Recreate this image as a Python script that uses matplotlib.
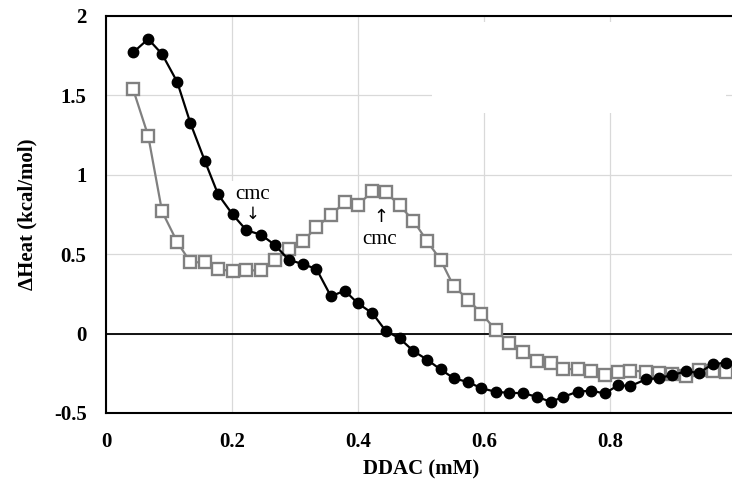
import matplotlib
matplotlib.use('Agg')
import matplotlib.pyplot as plt
from matplotlib.patches import Rectangle

# DDAC concentration (mM), shared by both runs
ddac = [0.043, 0.067, 0.089, 0.113, 0.134, 0.157, 0.178, 0.201, 0.223, 0.246,
        0.268, 0.290, 0.312, 0.334, 0.357, 0.379, 0.400, 0.423, 0.444, 0.466,
        0.488, 0.510, 0.531, 0.552, 0.575, 0.596, 0.619, 0.640, 0.662, 0.684,
        0.706, 0.726, 0.749, 0.770, 0.792, 0.813, 0.832, 0.857, 0.877, 0.899,
        0.920, 0.941, 0.963, 0.984]

# filled circles
heat_black = [1.77, 1.855, 1.76, 1.585, 1.325, 1.086, 0.876, 0.75, 0.65, 0.623,
              0.558, 0.465, 0.438, 0.407, 0.235, 0.27, 0.19, 0.128, 0.017, -0.03,
              -0.11, -0.165, -0.226, -0.281, -0.306, -0.344, -0.367, -0.373, -0.375, -0.398,
              -0.43, -0.398, -0.365, -0.36, -0.377, -0.324, -0.331, -0.288, -0.28, -0.261,
              -0.238, -0.247, -0.193, -0.183]

# open squares
heat_gray = [1.539, 1.245, 0.769, 0.577, 0.449, 0.449, 0.407, 0.392, 0.398, 0.398,
             0.465, 0.53, 0.58, 0.669, 0.748, 0.826, 0.811, 0.895, 0.891, 0.807,
             0.711, 0.58, 0.465, 0.297, 0.214, 0.126, 0.021, -0.059, -0.117, -0.17,
             -0.185, -0.222, -0.226, -0.238, -0.258, -0.241, -0.233, -0.239, -0.247, -0.254,
             -0.268, -0.231, -0.233, -0.243]

xticks = [0, 0.2, 0.4, 0.6, 0.8, 1]
xtick_labels = ['0', '0.2', '0.4', '0.6', '0.8', '1']
yticks = [-0.5, 0, 0.5, 1, 1.5, 2]
ytick_labels = ['-0.5', '0', '0.5', '1', '1.5', '2']

plt.rcParams['font.family'] = ['Liberation Serif', 'DejaVu Serif']

fig = plt.figure(figsize=(7.32, 4.84), dpi=100)
ax = fig.add_axes([0.1448, 0.1467, 0.8607, 0.8203])

ax.set_xlim(0, 1)
ax.set_ylim(-0.5, 2)

ax.grid(True, color='#d9d9d9', linewidth=0.9)
ax.set_axisbelow(True)
# stray blank box in the original
ax.add_patch(Rectangle((0.517, 1.39), 0.467, 0.57, facecolor='white',
                       edgecolor='none', zorder=1.6))

ax.axhline(0, color='black', linewidth=1.3, zorder=1.8)

ax.plot(ddac, heat_gray, color='#808080', linewidth=1.6, marker='s',
        markersize=8, markerfacecolor='white', markeredgecolor='#808080',
        markeredgewidth=1.7, zorder=2)
ax.plot(ddac, heat_black, color='black', linewidth=1.6, marker='o',
        markersize=7.5, markerfacecolor='black', markeredgecolor='black', zorder=3)

# cmc markers
box = dict(facecolor='white', edgecolor='none', pad=3)
ax.text(0.233, 0.874, 'cmc', ha='center', va='center', fontsize=15,
        bbox=box, zorder=1.7)
ax.text(0.232, 0.755, '\u2193', ha='center', va='center', fontsize=12,
        family='DejaVu Sans', bbox=box, zorder=1.7)
ax.text(0.437, 0.737, '\u2191', ha='center', va='center', fontsize=13,
        family='DejaVu Sans', bbox=box, zorder=1.7)
ax.text(0.435, 0.591, 'cmc', ha='center', va='center', fontsize=15,
        bbox=box, zorder=1.7)

ax.set_xticks(xticks)
ax.set_xticklabels(xtick_labels, fontweight='bold', fontsize=15)
ax.set_yticks(yticks)
ax.set_yticklabels(ytick_labels, fontweight='bold', fontsize=15)
ax.tick_params(length=0, pad=14)

ax.set_xlabel('DDAC (mM)', fontweight='bold', fontsize=15, labelpad=5)
ax.set_ylabel('\u0394Heat (kcal/mol)', fontweight='bold', fontsize=15, labelpad=12)

for side in ['left', 'bottom', 'top']:
    ax.spines[side].set_color('black')
    ax.spines[side].set_linewidth(1.5)
ax.spines['right'].set_visible(False)

fig.savefig('out.png', dpi=100)
